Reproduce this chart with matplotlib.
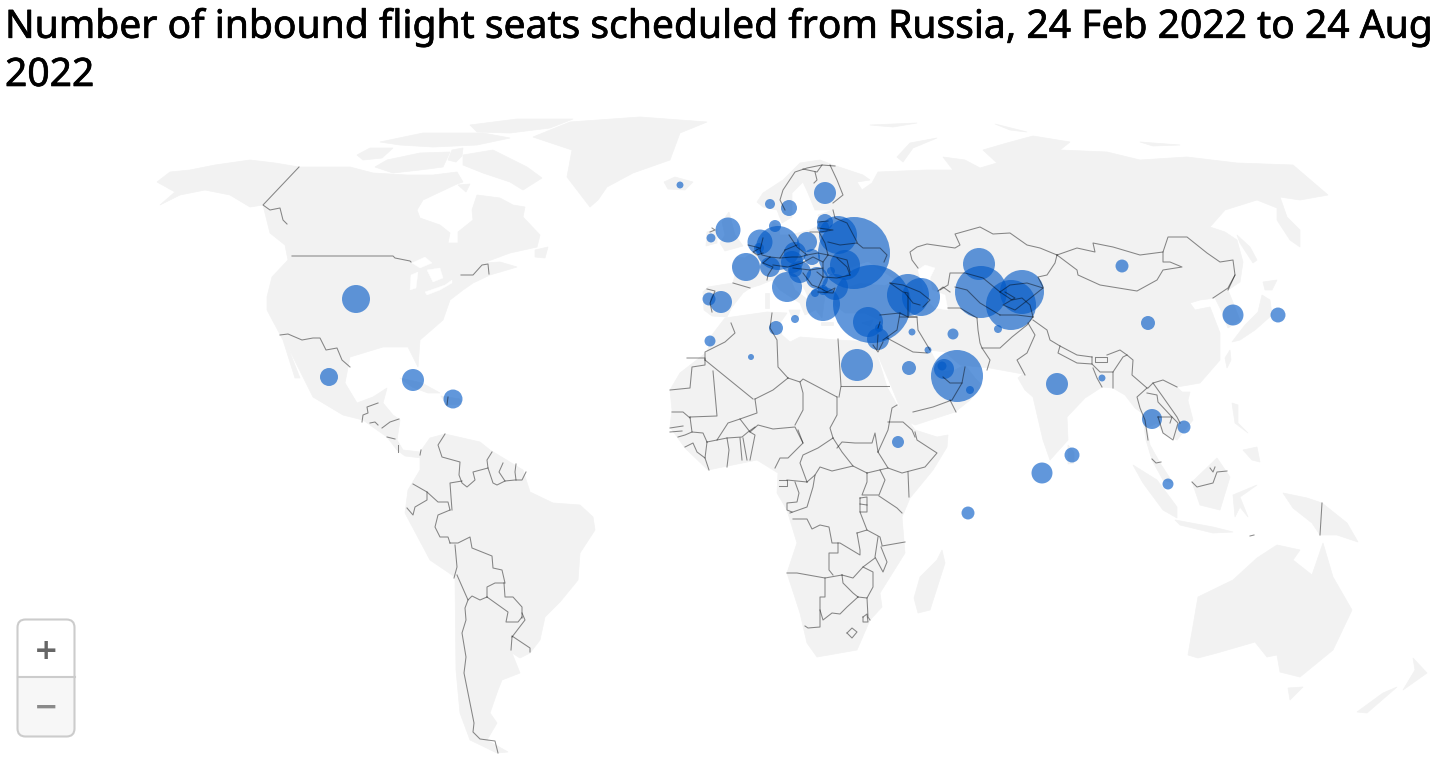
import matplotlib
matplotlib.use('Agg')
import matplotlib.pyplot as plt
import matplotlib.patheffects as pe
from matplotlib.patches import Polygon, FancyBboxPatch
import numpy as np

# ── BUBBLE DATA (thousand seats, position on the map) ────────────────────────
countries = ['Iceland', 'Finland', 'Norway', 'Sweden', 'Estonia', 'Latvia', 'Ireland', 'UK',
             'Netherlands', 'Germany', 'Denmark', 'Poland', 'Belarus', 'Ukraine', 'Romania',
             'France', 'Belgium', 'Switzerland', 'Czechia', 'Austria', 'Italy', 'Hungary',
             'Croatia', 'Serbia', 'Bulgaria', 'Greece', 'Turkey', 'Cyprus', 'Lebanon', 'Israel',
             'Georgia', 'Armenia', 'Egypt', 'Spain', 'Portugal', 'Morocco', 'Algeria', 'Tunisia',
             'Malta', 'Iraq', 'Iran', 'Kuwait', 'Saudi Arabia', 'UAE', 'Qatar', 'Bahrain', 'Oman',
             'Kazakhstan', 'Uzbekistan', 'Kyrgyzstan', 'Tajikistan', 'Afghanistan', 'Mongolia',
             'China', 'South Korea', 'Japan', 'India', 'Bangladesh', 'Thailand', 'Vietnam',
             'Sri Lanka', 'Maldives', 'Singapore', 'Seychelles', 'Ethiopia', 'USA', 'Mexico',
             'Cuba', 'Dominican Rep.', 'Slovenia', 'Moldova', 'Albania', 'N. Macedonia']
bubble_x = [680, 825, 770, 789, 825, 823, 711, 728, 760, 778, 775, 807, 838, 854, 845, 746, 759, 770,
            795, 792, 787, 812, 800, 817, 835, 823, 872, 868, 879, 878, 908, 921, 857, 721, 709, 710,
            751, 776, 795, 912, 953, 928, 909, 957, 944, 942, 970, 979, 981, 1022, 1011, 998, 1122,
            1148, 1233, 1278, 1057, 1102, 1152, 1184, 1072, 1042, 1168, 968, 898, 356, 329, 413, 453,
            795, 831, 815, 823]
bubble_y = [185, 193, 204, 208, 222, 227, 238, 230, 242, 248, 226, 242, 235, 253, 265, 267, 248, 267,
            253, 262, 287, 257, 272, 278, 287, 304, 304, 322, 328, 339, 295, 297, 365, 302, 299, 341,
            357, 328, 319, 332, 334, 350, 368, 376, 369, 366, 390, 264, 292, 292, 305, 329, 266,
            323, 315, 315, 384, 378, 419, 427, 455, 473, 484, 513, 442, 299, 377, 380, 399,
            270, 271, 293, 290]
seats_k = [12, 121, 25, 64, 64, 36, 20, 156, 156, 484, 36, 100, 361, 1296, 225, 196, 25, 100,
           121, 121, 225, 64, 121, 121, 169, 289, 1521, 225, 16, 121, 441, 361, 256, 121, 42, 30,
           9, 49, 16, 12, 30, 12, 49, 676, 100, 20, 16, 256, 676, 484, 625, 16, 42,
           49, 110, 56, 121, 12, 100, 42, 56, 110, 30, 42, 36, 196, 81, 121, 90,
           49, 16, 16, 25]

# ── MAP SHAPES (map units, same scale as the bubbles) ────────────────────────
eurasia = [(704, 310), (703, 292), (708, 287), (733, 283), (735, 275), (732, 265), (737, 257), (745, 258),
           (755, 250), (763, 235), (770, 233), (773, 222), (778, 225), (780, 235), (790, 235), (810, 230),
           (820, 225), (818, 215), (833, 210), (815, 210), (808, 193), (803, 182), (792, 193), (792, 217),
           (782, 223), (777, 210), (763, 207), (757, 202), (763, 193), (783, 180), (800, 163), (820, 160),
           (833, 165), (863, 175), (870, 180), (857, 182), (862, 190), (872, 183), (878, 172), (927, 170),
           (953, 170), (943, 157), (965, 160), (980, 168), (997, 163), (983, 150), (1007, 143), (1033, 136),
           (1070, 142), (1060, 150), (1107, 152), (1140, 160), (1187, 157), (1237, 163), (1293, 165),
           (1328, 195), (1300, 200), (1280, 197), (1287, 217), (1300, 230), (1300, 247), (1290, 240),
           (1277, 220), (1277, 208), (1257, 200), (1225, 210), (1210, 227), (1225, 232), (1237, 240),
           (1243, 262), (1240, 282), (1228, 290), (1232, 300), (1240, 320), (1228, 328), (1222, 312),
           (1215, 298), (1200, 300), (1190, 303), (1195, 310), (1210, 307), (1220, 333), (1220, 360),
           (1200, 383), (1177, 387), (1187, 397), (1193, 420), (1177, 440), (1163, 433), (1157, 423),
           (1147, 428), (1150, 445), (1160, 463), (1173, 483), (1163, 480), (1152, 460), (1146, 440),
           (1142, 413), (1135, 408), (1125, 395), (1113, 388), (1102, 387), (1085, 398), (1067, 417),
           (1068, 440), (1050, 460), (1043, 440), (1033, 397), (1025, 390), (1018, 378), (1023, 374),
           (990, 368), (960, 365), (945, 352), (930, 350), (938, 365), (945, 372), (955, 370), (965, 365),
           (975, 378), (982, 385), (970, 400), (955, 412), (915, 425), (905, 420), (892, 388), (880, 360),
           (873, 345), (878, 330), (880, 320), (865, 313), (845, 313), (835, 305), (833, 292), (825, 295),
           (822, 318), (812, 305), (805, 290), (795, 275), (790, 278), (795, 290), (812, 303), (815, 310),
           (805, 315), (800, 303), (780, 290), (772, 280), (760, 285), (750, 288), (743, 293), (732, 307),
           (727, 317), (712, 316)]
north_america = [(157, 182), (170, 172), (190, 170), (215, 165), (250, 160), (275, 163), (299, 167), (350, 167),
                 (373, 173), (407, 175), (433, 175), (457, 172), (463, 182), (457, 184), (423, 200), (417, 210),
                 (420, 218), (440, 225), (450, 233), (448, 243), (458, 243), (458, 232), (473, 220), (472, 210),
                 (477, 195), (500, 198), (513, 205), (525, 207), (523, 217), (540, 235), (537, 247), (510, 253),
                 (483, 263), (500, 262), (517, 267), (490, 275), (473, 283), (463, 290), (450, 300), (443, 320),
                 (420, 340), (418, 367), (412, 355), (408, 347), (383, 347), (350, 357), (345, 383), (357, 403),
                 (373, 397), (387, 388), (383, 403), (393, 415), (400, 420), (397, 440), (403, 450), (420, 452),
                 (422, 458), (405, 456), (397, 450), (387, 437), (363, 420), (343, 415), (313, 397), (303, 377),
                 (287, 345), (300, 378), (295, 378), (283, 340), (267, 310), (267, 297), (272, 277), (288, 260),
                 (285, 245), (270, 233), (263, 205), (250, 207), (230, 195), (205, 190), (180, 195), (160, 205),
                 (175, 192)]
south_america = [(420, 452), (430, 438), (445, 434), (480, 442), (490, 450), (523, 470), (530, 492), (553, 503),
                 (580, 505), (593, 517), (595, 530), (580, 553), (578, 580), (560, 602), (545, 617), (540, 640),
                 (530, 653), (520, 658), (512, 653), (520, 673), (502, 680), (498, 690), (490, 713), (497, 723),
                 (487, 740), (508, 752), (497, 753), (470, 740), (460, 713), (456, 670), (455, 577), (430, 560),
                 (405, 513), (408, 490), (420, 470)]
africa = [(725, 318), (767, 312), (787, 313), (780, 323), (782, 335), (790, 342), (800, 337), (837, 340), (873, 342),
          (887, 387), (897, 405), (915, 430), (937, 437), (948, 435), (947, 447), (933, 470), (910, 498), (902, 517),
          (905, 553), (880, 593), (882, 607), (870, 620), (857, 650), (817, 657), (807, 643), (800, 613), (787, 573),
          (797, 543), (787, 510), (777, 493), (778, 473), (757, 460), (708, 470), (685, 448), (670, 427), (672, 410),
          (670, 390), (680, 373), (707, 352), (712, 335)]
australia = [(1188, 655), (1198, 597), (1233, 580), (1257, 558), (1277, 545), (1300, 550), (1293, 560), (1312, 575),
             (1323, 543), (1333, 577), (1352, 610), (1333, 650), (1300, 677), (1280, 672), (1277, 655), (1267, 657),
             (1255, 642), (1217, 653), (1198, 658)]
greenland = [(590, 207), (567, 177), (572, 150), (533, 137), (570, 122), (640, 117), (707, 122), (680, 133),
             (670, 160), (633, 173), (607, 187), (598, 200)]
islands = [
    [(463, 155), (493, 150), (527, 167), (542, 178), (523, 190), (510, 182), (483, 173), (463, 165)],
    [(420, 153), (450, 152), (443, 167), (420, 170), (393, 173), (375, 167), (387, 160)],
    [(357, 155), (370, 148), (393, 148), (382, 158), (363, 160)],
    [(380, 142), (423, 133), (483, 133), (510, 138), (477, 145), (433, 147), (400, 145)],
    [(470, 125), (517, 119), (573, 119), (550, 128), (510, 133), (477, 132)],
    [(452, 150), (463, 148), (462, 156), (456, 162), (448, 160)],
    [(458, 185), (470, 184), (466, 192)],
    [(535, 250), (548, 247), (545, 258), (535, 257)],
    [(664, 182), (675, 177), (693, 182), (685, 190), (668, 189)],
    [(722, 222), (729, 212), (735, 235), (743, 246), (725, 251), (720, 243), (725, 235)],
    [(707, 232), (717, 229), (717, 243), (706, 246)],
    [(789, 310), (800, 310), (798, 318), (791, 315)],
    [(765, 293), (769, 293), (769, 308), (765, 308)],
    [(821, 322), (833, 322), (833, 325), (821, 325)],
    [(862, 323), (873, 320), (870, 326)],
    [(914, 598), (920, 577), (937, 560), (942, 550), (945, 563), (930, 610), (918, 613)],
    [(1068, 445), (1074, 452), (1074, 463), (1068, 464)],
    [(1133, 465), (1157, 480), (1177, 507), (1177, 518), (1163, 510), (1143, 483)],
    [(1175, 520), (1213, 527), (1233, 532), (1213, 533), (1180, 525)],
    [(1192, 482), (1217, 458), (1230, 477), (1220, 510), (1200, 505)],
    [(1233, 495), (1257, 485), (1240, 497), (1248, 517), (1240, 507), (1235, 517)],
    [(1232, 403), (1238, 405), (1238, 423), (1248, 433), (1235, 423)],
    [(1243, 450), (1257, 447), (1260, 462), (1252, 460)],
    [(1225, 358), (1230, 350), (1231, 360), (1227, 368)],
    [(1182, 392), (1190, 392), (1188, 400), (1183, 399)],
    [(1283, 493), (1307, 498), (1322, 503), (1347, 523), (1358, 542), (1337, 535), (1320, 535), (1312, 523), (1293, 508)],
    [(1288, 688), (1303, 687), (1290, 700)],
    [(1413, 658), (1427, 673), (1403, 690), (1415, 670)],
    [(1397, 687), (1367, 713), (1357, 712), (1383, 693)],
    [(1237, 235), (1250, 247), (1257, 260), (1253, 263), (1240, 243)],
    [(1263, 282), (1277, 280), (1272, 290), (1265, 290)],
    [(1262, 295), (1270, 300), (1272, 315), (1255, 330), (1240, 340), (1232, 342), (1245, 325), (1258, 312)],
    [(897, 157), (910, 143), (937, 138), (913, 148), (903, 162)],
    [(995, 124), (1027, 132), (1010, 130)],
    [(1140, 142), (1180, 145), (1153, 146)],
    [(870, 125), (917, 123), (893, 127)],
    [(400, 378), (422, 383), (440, 393), (428, 393), (412, 387)],
    [(441, 396), (460, 399), (462, 404), (447, 405)],
]
water = [
    [(850, 268), (868, 262), (880, 270), (895, 280), (885, 285), (860, 283), (845, 288), (840, 278)],
    [(925, 265), (935, 268), (930, 278), (932, 290), (945, 295), (948, 310), (935, 308), (925, 298), (922, 285), (918, 270)],
    [(412, 263), (425, 257), (432, 263), (420, 268)],
    [(410, 290), (411, 275), (418, 272), (416, 288)],
    [(427, 270), (440, 268), (443, 278), (433, 282)],
    [(425, 292), (445, 285), (452, 280), (452, 283), (440, 290), (427, 295)],
]

borders = [
    # north and central America
    [(299, 167), (263, 205), (270, 210), (280, 208), (283, 220), (287, 224)],
    [(292, 256), (393, 256), (395, 258), (410, 261), (411, 262)],
    [(461, 275), (473, 275), (482, 265), (488, 264), (489, 274)],
    [(280, 335), (288, 334), (302, 340), (313, 338), (320, 338), (326, 350), (337, 348), (342, 360), (350, 367)],
    [(378, 403), (367, 407), (368, 413), (363, 415), (362, 422)],
    [(370, 423), (375, 422), (378, 425)],
    [(382, 428), (390, 422), (399, 419)],
    [(387, 437), (395, 439)],
    [(398, 445), (398, 452)],
    [(420, 455), (421, 450)],
    [(448, 397), (447, 405)],
    # south America
    [(445, 434), (438, 445), (442, 457), (460, 462), (459, 475), (462, 483), (467, 487), (475, 480), (473, 472), (488, 468), (487, 460), (492, 452)],
    [(488, 468), (493, 483), (497, 485), (505, 481), (515, 480), (522, 480), (526, 472)],
    [(503, 463), (499, 472), (505, 481)],
    [(516, 464), (515, 472), (516, 480)],
    [(462, 481), (450, 483), (451, 497), (452, 510)],
    [(413, 484), (427, 492), (438, 502), (448, 502), (450, 510)],
    [(427, 492), (427, 500), (415, 507), (413, 515), (407, 508)],
    [(450, 510), (438, 515), (435, 527), (440, 537), (448, 537), (450, 543)],
    [(450, 543), (458, 543), (470, 537), (472, 548), (492, 556), (493, 568), (502, 570), (505, 583)],
    [(455, 545), (457, 567), (454, 578)],
    [(457, 575), (468, 600), (472, 596), (480, 600), (487, 597)],
    [(487, 597), (487, 587), (495, 583), (504, 583)],
    [(504, 583), (505, 597), (513, 597), (522, 607), (522, 618)],
    [(487, 597), (508, 612), (506, 622), (518, 622), (522, 617)],
    [(522, 613), (525, 620), (512, 637)],
    [(512, 636), (530, 648), (530, 652)],
    [(512, 637), (511, 650)],
    [(468, 600), (465, 608), (466, 620), (462, 633), (466, 657), (464, 673), (470, 703), (474, 723), (473, 732), (480, 739), (495, 741), (498, 753)],
    # north Africa
    [(731, 323), (735, 333), (725, 342), (705, 352), (705, 360)],
    [(687, 358), (705, 358), (705, 365), (692, 367), (690, 388), (670, 390)],
    [(705, 360), (753, 399)],
    [(713, 371), (717, 416), (690, 417)],
    [(772, 313), (770, 328), (777, 340), (778, 367), (788, 378)],
    [(788, 378), (773, 390), (755, 399)],
    [(788, 378), (800, 382), (803, 379), (837, 397)],
    [(838, 339), (841, 386), (839, 397)],
    [(841, 386), (889, 386)],
    [(800, 382), (803, 393), (803, 410), (795, 425)],
    [(755, 399), (757, 413), (740, 419), (728, 423), (717, 440)],
    [(690, 417), (692, 432), (703, 433), (707, 442)],
    [(672, 412), (683, 412), (690, 418)],
    [(670, 428), (683, 426)],
    [(670, 432), (682, 431)],
    [(678, 437), (685, 435), (692, 432)],
    [(707, 442), (717, 440), (727, 438), (742, 437), (748, 432), (755, 427)],
    [(740, 419), (750, 432), (758, 425), (773, 429), (795, 427), (803, 443)],
    [(750, 432), (755, 435), (750, 460)],
    [(743, 438), (747, 460)],
    [(740, 438), (742, 460)],
    [(727, 438), (729, 450), (727, 467)],
    [(707, 442), (705, 458), (709, 470)],
    [(685, 447), (693, 443), (697, 452), (705, 458)],
    [(798, 430), (803, 443), (788, 458), (780, 458), (775, 468)],
    [(837, 397), (837, 415), (830, 428), (833, 438)],
    [(833, 438), (818, 448), (803, 455), (800, 463), (807, 482)],
    [(779, 480), (787, 480), (787, 486), (779, 486)],
    [(787, 480), (807, 482)],
    [(795, 482), (799, 493), (797, 502), (787, 503), (787, 510), (792, 512)],
    [(807, 482), (815, 475), (813, 487), (807, 507), (790, 513)],
    [(815, 475), (820, 467), (832, 471), (853, 466), (867, 473)],
    [(837, 448), (842, 442), (855, 443), (872, 443), (875, 433), (878, 452)],
    [(833, 438), (842, 452), (853, 466)],
    [(878, 452), (888, 468)],
    [(878, 452), (888, 430), (892, 408), (897, 405)],
    [(888, 422), (903, 422), (912, 430), (915, 437)],
    [(867, 473), (888, 468), (902, 473), (925, 467), (937, 453), (917, 440), (915, 432)],
    [(908, 472), (909, 497)],
    [(867, 473), (867, 482), (862, 495), (879, 495), (885, 480), (880, 470)],
    [(879, 496), (897, 508), (902, 513)],
    [(860, 498), (867, 497), (867, 512), (860, 512), (860, 498)],
    [(860, 504), (867, 505)],
    [(860, 512), (867, 530)],
    [(857, 533), (867, 530), (880, 537), (882, 545)],
    [(878, 537), (875, 557), (883, 572), (887, 562), (881, 547)],
    [(882, 546), (905, 542)],
    [(793, 519), (807, 519), (812, 529), (820, 525), (829, 527), (832, 543), (840, 543), (860, 555), (860, 550), (857, 533)],
    [(838, 543), (838, 553), (829, 553), (829, 570), (833, 575)],
    [(787, 573), (797, 573), (825, 578), (842, 575)],
    [(842, 575), (853, 578), (863, 567), (873, 572), (873, 587), (867, 598), (858, 597)],
    [(863, 567), (875, 558)],
    [(825, 578), (825, 597), (820, 597), (820, 627), (808, 628), (805, 626)],
    [(820, 610), (823, 620), (832, 613), (840, 614), (847, 607), (858, 597)],
    [(842, 575), (843, 583), (853, 593), (858, 597)],
    [(867, 598), (868, 617), (870, 620)],
    [(863, 617), (867, 614), (868, 622), (863, 622), (863, 617)],
    [(847, 633), (852, 628), (857, 632), (852, 638), (847, 633)],
    # central and east Asia
    [(918, 268), (912, 260), (910, 252), (917, 247), (927, 244), (955, 248), (960, 245), (955, 234), (980, 227), (993, 234), (1010, 233), (1027, 245), (1040, 248), (1057, 255)],
    [(1057, 255), (1077, 248), (1095, 252), (1093, 243), (1113, 247), (1140, 255), (1163, 252), (1168, 237), (1187, 237), (1207, 253), (1220, 262), (1233, 260), (1235, 275), (1228, 290)],
    [(1057, 255), (1077, 270), (1078, 275), (1100, 285), (1137, 291), (1157, 280), (1163, 270), (1182, 267), (1170, 262), (1163, 262), (1163, 252)],
    [(1235, 275), (1228, 288), (1213, 298)],
    [(1057, 255), (1055, 263), (1047, 275), (1038, 277), (1043, 287)],
    [(1043, 288), (1027, 283), (1010, 285), (1000, 292)],
    [(1000, 292), (983, 278), (965, 273), (950, 273), (948, 285), (940, 290)],
    [(955, 287), (967, 290), (980, 303), (1000, 315)],
    [(948, 308), (960, 308), (977, 318)],
    [(977, 318), (978, 330), (980, 343), (982, 348), (990, 360), (987, 370)],
    [(982, 348), (1000, 348), (1012, 337), (1027, 325), (1033, 317)],
    [(1000, 315), (1017, 315), (1033, 317)],
    [(1005, 292), (1015, 298), (1003, 305), (1015, 310), (1028, 300), (1043, 288)],
    [(1000, 292), (1012, 300), (1022, 298), (1030, 305), (1033, 317)],
    [(1028, 323), (1035, 335), (1027, 353), (1017, 360), (1025, 375)],
    [(1033, 320), (1047, 330), (1050, 340), (1060, 346), (1077, 355), (1092, 357)],
    [(1060, 346), (1058, 353), (1077, 363), (1092, 364), (1092, 357)],
    [(1095, 357), (1107, 357), (1107, 362), (1095, 362), (1095, 357)],
    [(1107, 355), (1120, 350), (1127, 355), (1133, 360), (1132, 375), (1147, 388)],
    [(1092, 364), (1100, 372), (1113, 372), (1113, 388)],
    [(1093, 368), (1097, 378), (1102, 387)],
    [(1113, 372), (1123, 357), (1127, 355)],
    [(1147, 388), (1137, 397), (1140, 408), (1145, 420), (1148, 440)],
    [(1148, 388), (1153, 383), (1163, 380), (1177, 387)],
    [(1147, 393), (1157, 395), (1158, 402), (1172, 417), (1170, 423)],
    [(1153, 383), (1163, 397), (1177, 417), (1180, 423)],
    [(1158, 417), (1172, 417), (1178, 423), (1173, 440), (1163, 433), (1158, 417)],
    [(1152, 459), (1156, 463), (1161, 462)],
    [(1192, 482), (1197, 487), (1213, 483), (1217, 472), (1227, 471)],
    [(1210, 468), (1213, 472), (1215, 467)],
    [(1322, 503), (1320, 535)],
    [(1250, 536), (1254, 535)],
    # middle East and Caucasus
    [(900, 317), (917, 317), (918, 330), (930, 350)],
    [(880, 315), (900, 313), (908, 317), (917, 317)],
    [(900, 313), (897, 330), (883, 340)],
    [(887, 338), (913, 352), (927, 353)],
    [(878, 328), (880, 322)],
    [(877, 350), (878, 335)],
    [(873, 345), (878, 352), (883, 342)],
    [(913, 412), (933, 407), (952, 400), (962, 383), (965, 367)],
    [(943, 377), (950, 383), (962, 383)],
    [(950, 400), (956, 412)],
    [(890, 283), (903, 285), (920, 292), (930, 300), (923, 307)],
    [(905, 293), (913, 303), (920, 305)],
    [(890, 283), (903, 292), (908, 293), (908, 317)],
    [(938, 291), (943, 287), (950, 292)],
    # Europe
    [(857, 243), (863, 248), (880, 248), (887, 255), (884, 262)],
    [(828, 242), (840, 245), (857, 243)],
    [(833, 210), (835, 218), (847, 223), (857, 242)],
    [(830, 165), (837, 180), (843, 195), (833, 203)],
    [(822, 165), (807, 168), (795, 172), (783, 190), (780, 200), (785, 210)],
    [(803, 169), (817, 172), (822, 165), (835, 166)],
    [(815, 172), (817, 180), (814, 183)],
    [(818, 222), (828, 221)],
    [(818, 228), (833, 230), (820, 232)],
    [(810, 232), (819, 232), (825, 243), (828, 255)],
    [(789, 235), (797, 247), (807, 255), (818, 253), (828, 255)],
    [(785, 250), (797, 245)],
    [(763, 238), (760, 250), (762, 255), (770, 257)],
    [(748, 245), (760, 248), (753, 252), (757, 255), (763, 253)],
    [(763, 263), (773, 267), (768, 275), (767, 280)],
    [(773, 265), (788, 267), (802, 263), (813, 257), (823, 262), (823, 268)],
    [(780, 258), (792, 257), (800, 257), (807, 255)],
    [(770, 257), (780, 258), (785, 250)],
    [(770, 257), (763, 263)],
    [(823, 262), (828, 255), (847, 260), (850, 272)],
    [(837, 258), (847, 267), (850, 275)],
    [(823, 277), (837, 278), (850, 275)],
    [(793, 268), (810, 270), (823, 268), (823, 277)],
    [(803, 273), (812, 285), (820, 288), (827, 292)],
    [(817, 272), (823, 277), (818, 288)],
    [(818, 292), (833, 293), (835, 288), (827, 292)],
    [(733, 283), (750, 288)],
    [(707, 289), (715, 291), (710, 303), (712, 312)],
    [(710, 232), (715, 230), (712, 228)],
]
plus_label = '+'
minus_label = '\u2212'
title_text = 'Number of inbound flight seats scheduled from Russia, 24 Feb 2022 to 24 Aug\n2022'

# ── DRAW ─────────────────────────────────────────────────────────────────────
LAND = '#f2f2f2'
BUBBLE = '#0058c6'

fig = plt.figure(figsize=(14.42, 7.76), dpi=100)
ax = fig.add_axes([0, 0, 1, 1])
ax.set_xlim(0, 1442)
ax.set_ylim(776, 0)
ax.axis('off')

shapes = [eurasia, north_america, south_america, africa, australia, greenland] + islands
for shape in shapes:
    ax.add_patch(Polygon(shape, closed=True, fc=LAND, ec=LAND, lw=0.5, zorder=1))
for shape in water:
    ax.add_patch(Polygon(shape, closed=True, fc='white', ec='white', lw=0.3, zorder=2))

# area of a bubble follows the seats, 1 thousand seats = 1 px radius squared
sizes = np.array(seats_k) * (2 * 0.72) ** 2
ax.scatter(bubble_x, bubble_y, s=sizes, color=BUBBLE, alpha=0.62, linewidths=0, zorder=3)

# translucent black so the lines go dark where they cross a bubble
for line in borders:
    pts = np.array(line)
    ax.plot(pts[:, 0], pts[:, 1], color='black', alpha=0.45, lw=0.75, solid_joinstyle='round', zorder=4)

title = ax.text(5, 8, title_text, fontsize=28.1, family='Noto Sans', color='black',
                va='top', ha='left', linespacing=1.35, zorder=6)
# the reference title is a touch heavier than Noto Sans regular
title.set_path_effects([pe.withStroke(linewidth=0.5, foreground='black')])

# zoom buttons
ax.add_patch(FancyBboxPatch((17.5, 619.5), 57, 117, boxstyle='round,pad=0,rounding_size=8',
                            fc='#f7f7f7', ec='none', zorder=6))
ax.add_patch(FancyBboxPatch((17.5, 619.5), 57, 66, boxstyle='round,pad=0,rounding_size=8',
                            fc='white', ec='none', zorder=6))
ax.add_patch(plt.Rectangle((17.5, 677), 57, 10, fc='#f7f7f7', ec='none', zorder=6))
ax.plot([17.5, 74.5], [677, 677], color='#cccccc', lw=1.5, zorder=7)
ax.add_patch(FancyBboxPatch((17.5, 619.5), 57, 117, boxstyle='round,pad=0,rounding_size=8',
                            fc='none', ec='#cccccc', lw=1.5, zorder=7))
ax.text(46, 651, plus_label, fontsize=21, family='DejaVu Sans', weight='bold', color='#666666',
        ha='center', va='center', zorder=8)
ax.text(46, 708, minus_label, fontsize=21, family='DejaVu Sans', weight='bold', color='#8a8a8a',
        ha='center', va='center', zorder=8)

fig.savefig('out.png', dpi=100)
